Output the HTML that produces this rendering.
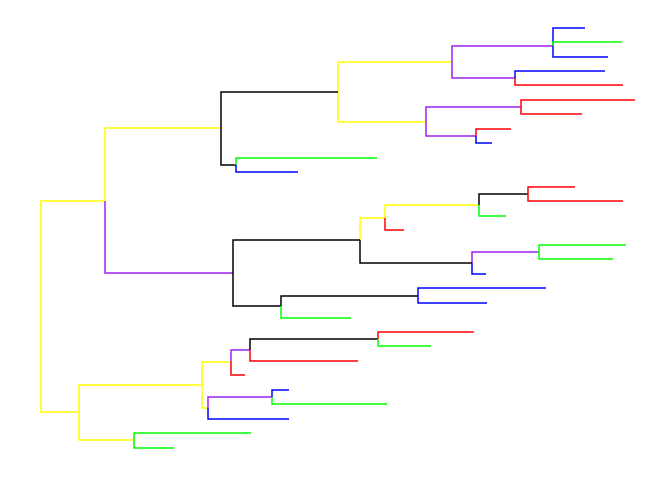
<!DOCTYPE html>
<html><head><meta charset="utf-8"><style>html,body{margin:0;padding:0;background:#fff}svg{display:block}</style></head><body>
<svg width="672" height="480" xmlns="http://www.w3.org/2000/svg" fill="none" stroke-width="1.5">
<g stroke="#ffff00">
<path d="M41 307V201H105"/><path d="M41 307V412H79"/>
<path d="M105 201V128H221"/>
<path d="M338 92V62H452"/><path d="M338 92V122H426"/>
<path d="M360 240V218H385"/><path d="M385 218V205H479"/>
<path d="M79 412V385H202"/><path d="M79 412V440H134"/>
<path d="M202 385V362H231"/><path d="M202 385V408H208"/>
</g>
<g stroke="#a020f0">
<path d="M105 201V273H233"/>
<path d="M452 62V46H553"/><path d="M452 62V78H515"/>
<path d="M426 122V107H521"/><path d="M426 122V136H476"/>
<path d="M472 263V252H539"/>
<path d="M231 362V350H250"/>
<path d="M208 408V397H272"/>
</g>
<g stroke="#000">
<path d="M221 128V92H338"/><path d="M221 128V165H236"/>
<path d="M233 273V240H360"/><path d="M233 273V306H281"/>
<path d="M360 240V263H472"/>
<path d="M479 205V194H528"/>
<path d="M281 306V296H418"/>
<path d="M250 350V339H378"/>
</g>
<g stroke="#0000ff">
<path d="M553 46V28H585"/><path d="M553 46V57H608"/>
<path d="M515 78V71H605"/>
<path d="M476 136V143H492"/>
<path d="M236 165V172H298"/>
<path d="M472 263V274H486"/>
<path d="M418 296V288H546"/><path d="M418 296V303H487"/>
<path d="M208 408V419H289"/>
<path d="M272 397V390H289"/>
</g>
<g stroke="#00ff00">
<path d="M553 46V42H622"/>
<path d="M236 165V158H377"/>
<path d="M479 205V216H506"/>
<path d="M539 252V245H626"/><path d="M539 252V259H613"/>
<path d="M281 306V318H351"/>
<path d="M378 339V346H431"/>
<path d="M272 397V404H387"/>
<path d="M134 440V433H251"/><path d="M134 440V448H174"/>
</g>
<g stroke="#ff0000">
<path d="M515 78V85H623"/>
<path d="M521 107V100H635"/><path d="M521 107V114H582"/>
<path d="M476 136V129H511"/>
<path d="M385 218V230H404"/>
<path d="M528 194V187H575"/><path d="M528 194V201H623"/>
<path d="M231 362V375H245"/>
<path d="M250 350V361H358"/>
<path d="M378 339V332H474"/>
</g>
</svg>
</body></html>
